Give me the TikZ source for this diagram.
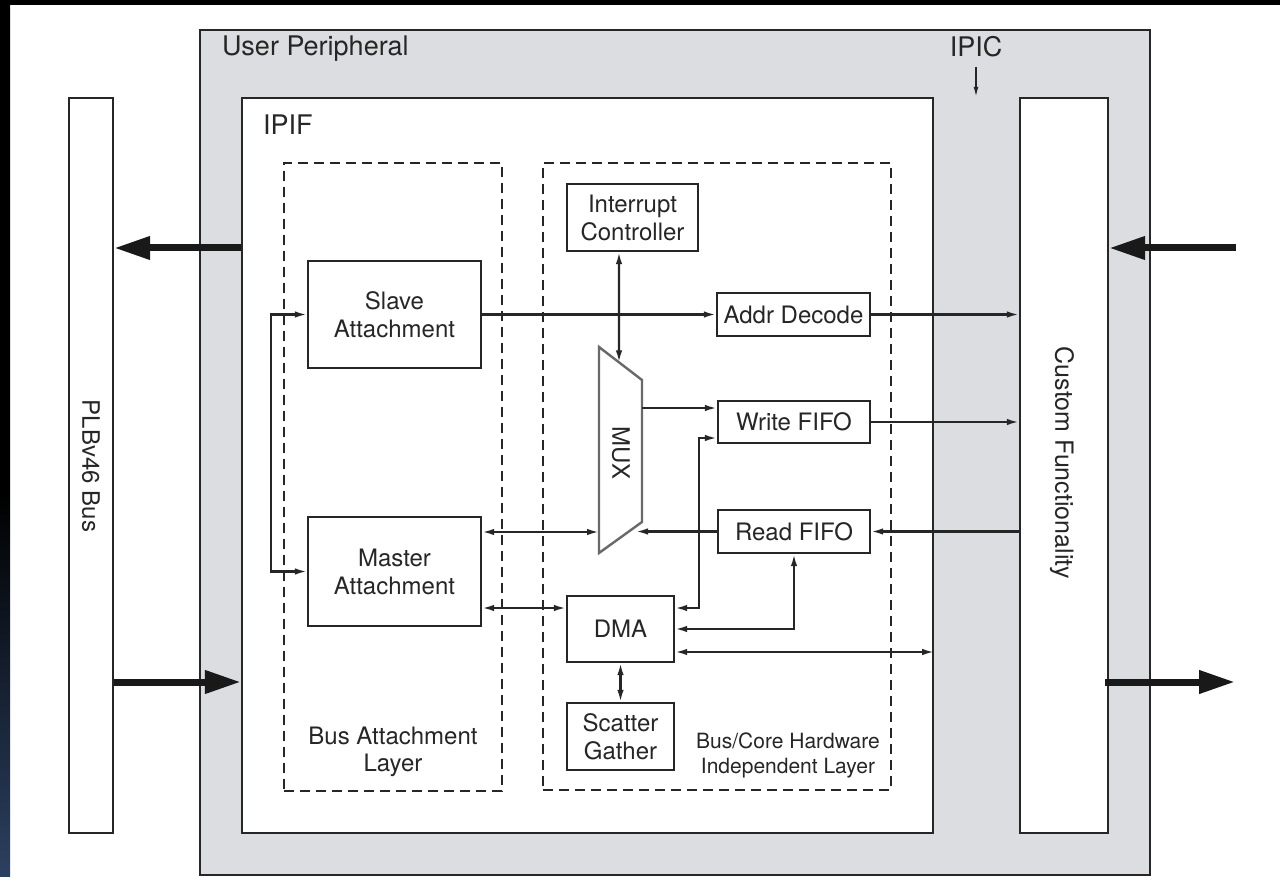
\documentclass[tikz,border=0pt]{standalone}
\usepackage{fontspec}
\setmainfont{TeX Gyre Heros}
\usetikzlibrary{arrows.meta,calc}

\definecolor{panel}{RGB}{220,221,224}
\definecolor{ink}{RGB}{38,38,38}
\definecolor{muxline}{RGB}{105,105,105}
\definecolor{stripblue}{RGB}{44,64,96}
\pgfdeclareverticalshading{edgestrip}{100bp}{color(0bp)=(stripblue); color(25bp)=(stripblue); color(47bp)=(black); color(100bp)=(black)}

\newcommand\blkfont{\fontsize{24}{28}\selectfont}
\newcommand\ttlfont{\fontsize{27}{30}\selectfont}
\newcommand\smlfont{\fontsize{21}{25}\selectfont}

\tikzset{
  blk/.style={align=center, inner sep=0pt, font=\blkfont, text=ink},
  box/.style={blk, draw=ink, line width=2.3pt, fill=white},
  title/.style={inner sep=0pt, outer sep=0pt, font=\ttlfont, text=ink},
  layer/.style={draw=ink, line width=2pt, dash pattern=on 10pt off 6pt, inner sep=0pt},
  wire/.style={draw=ink, line width=2.1pt},
  sig/.style={wire, -{Latex[length=12pt,width=6.5pt]}},
  bisig/.style={wire, {Latex[length=12pt,width=6.5pt]}-{Latex[length=12pt,width=6.5pt]}},
  bus/.style={draw=black!90, line width=7pt, -{Triangle[length=36pt,width=22pt]}}
}

\begin{document}
\begin{tikzpicture}[x=1pt,y=-1pt]
\useasboundingbox (0,0) rectangle (1280,877);
% page frame
\fill[black] (0,0) rectangle (1280,877);
\fill[white] (10,5) rectangle (1280,877);
\shade[shading=edgestrip] (0,5) rectangle (10,877);

% outer blocks
\node[draw=ink, line width=2.3pt, fill=panel, minimum width=950pt, minimum height=845pt, inner sep=0pt] (periph) at (675,452.5) {};
\node[box, minimum width=691pt, minimum height=735pt] (ipif) at (587.5,465.5) {};
\node[box, minimum width=44pt, minimum height=735pt] (plb) at (91,465.5) {};
\node[box, minimum width=88pt, minimum height=735pt] (cf) at (1064,465.5) {};
\node[blk, rotate=-90] (plblabel) at (91,466) {PLBv46 Bus};
\node[blk, rotate=-90, font=\fontsize{25}{28}\selectfont] (cflabel) at (1062,463) {Custom Functionality};

% titles
\node[title, anchor=base west] (uplabel) at (222,56) {User Peripheral};
\node[title, anchor=base west] (ipiflabel) at (263,135) {IPIF};
\node[title, anchor=base] (ipic) at (976,57) {IPIC};
\draw[wire, line width=1.5pt, -{Latex[length=10pt,width=5pt]}] ([yshift=-10pt]ipic.base) -- (ipic.base |- ipif.north);

% layers
\node[layer, minimum width=218pt, minimum height=628pt] (bal) at (393,477) {};
\node[layer, minimum width=348pt, minimum height=627pt] (bch) at (717,476.5) {};
\node[blk, font=\fontsize{24}{27}\selectfont] (ballabel) at (393,752) {Bus Attachment\\Layer};
\node[blk, font=\smlfont] (bchlabel) at (788,755) {Bus/Core Hardware\\Independent Layer};

% functional blocks
\node[box, minimum width=173pt, minimum height=107pt] (slave) at (394.5,314.5) {Slave\\Attachment};
\node[box, minimum width=173pt, minimum height=109pt] (master) at (394.5,571.5) {Master\\Attachment};
\node[box, minimum width=131pt, minimum height=67pt] (intc) at (632.5,217.5) {Interrupt\\Controller};
\node[box, minimum width=153pt, minimum height=43pt] (addr) at (793.5,314.5) {Addr Decode};
\node[box, minimum width=152pt, minimum height=42pt] (wfifo) at (794,422) {Write FIFO};
\node[box, minimum width=152pt, minimum height=43pt] (rfifo) at (794,531.5) {Read FIFO};
\node[box, minimum width=107pt, minimum height=66pt] (dma) at (620.5,629) {DMA};
\node[box, minimum width=107pt, minimum height=67pt] (sg) at (620.5,736.5) {Scatter\\Gather};

% multiplexer
\coordinate (mtl) at (599,347);
\coordinate (mtr) at (642,380);
\coordinate (mbr) at (642,522);
\coordinate (mbl) at (599,553);
\draw[muxline, line width=2.4pt, fill=white] (mtl) -- (mtr) -- (mbr) -- (mbl) -- cycle;
\node[blk, rotate=-90] (mux) at (621,453) {MUX};

% routing levels
\coordinate (muxout) at (642,408);
\coordinate (muxrd) at (636,531.5);
\coordinate (muxin) at (599,532);
\coordinate (wrlvl) at (0,438);
\coordinate (jog) at (699,608);
\coordinate (mdlvl) at (0,608);
\coordinate (extlvl) at (0,652);

% thick bus arrows
\coordinate (busout) at (0,248);
\coordinate (busin) at (0,682);
\coordinate (extin) at (1236,248);
\coordinate (extout) at (1235,682);
\draw[bus] (ipif.west |- busout) -- (plb.east |- busout);
\draw[bus] (plb.east |- busin) -- (ipif.west |- busin);
\draw[bus] (extin) -- (cf.east |- extin);
\draw[bus] ([xshift=-4pt]cf.east |- extout) -- (extout);

% signal connectors
\draw[bisig] (slave.west) -- ++(-36,0) |- (master.west);
\draw[sig] (slave.east) -- (addr.west);
\draw[sig] (addr.east) -- (addr.east -| cf.west);
\draw[bisig] ([xshift=-13.5pt]intc.south) -- ($(mtl)!0.465!(mtr)$);
\draw[sig] (muxout) -- (muxout -| wfifo.west);
\draw[sig] (wfifo.east) -- (wfifo.east -| cf.west);
\draw[sig] (rfifo.east -| cf.west) -- (rfifo.east);
\draw[sig] (rfifo.west) -- (muxrd);
\draw[bisig] (muxin -| master.east) -- (muxin);
\draw[bisig] (master.east |- mdlvl) -- (dma.west |- mdlvl);
\draw[bisig] (wfifo.west |- wrlvl) -| (jog) -- (dma.east |- mdlvl);
\draw[bisig] (rfifo.south) |- (dma.east);
\draw[bisig] (dma.east |- extlvl) -- (ipif.east |- extlvl);
\draw[bisig] (dma.south) -- (sg.north);
\end{tikzpicture}
\end{document}
